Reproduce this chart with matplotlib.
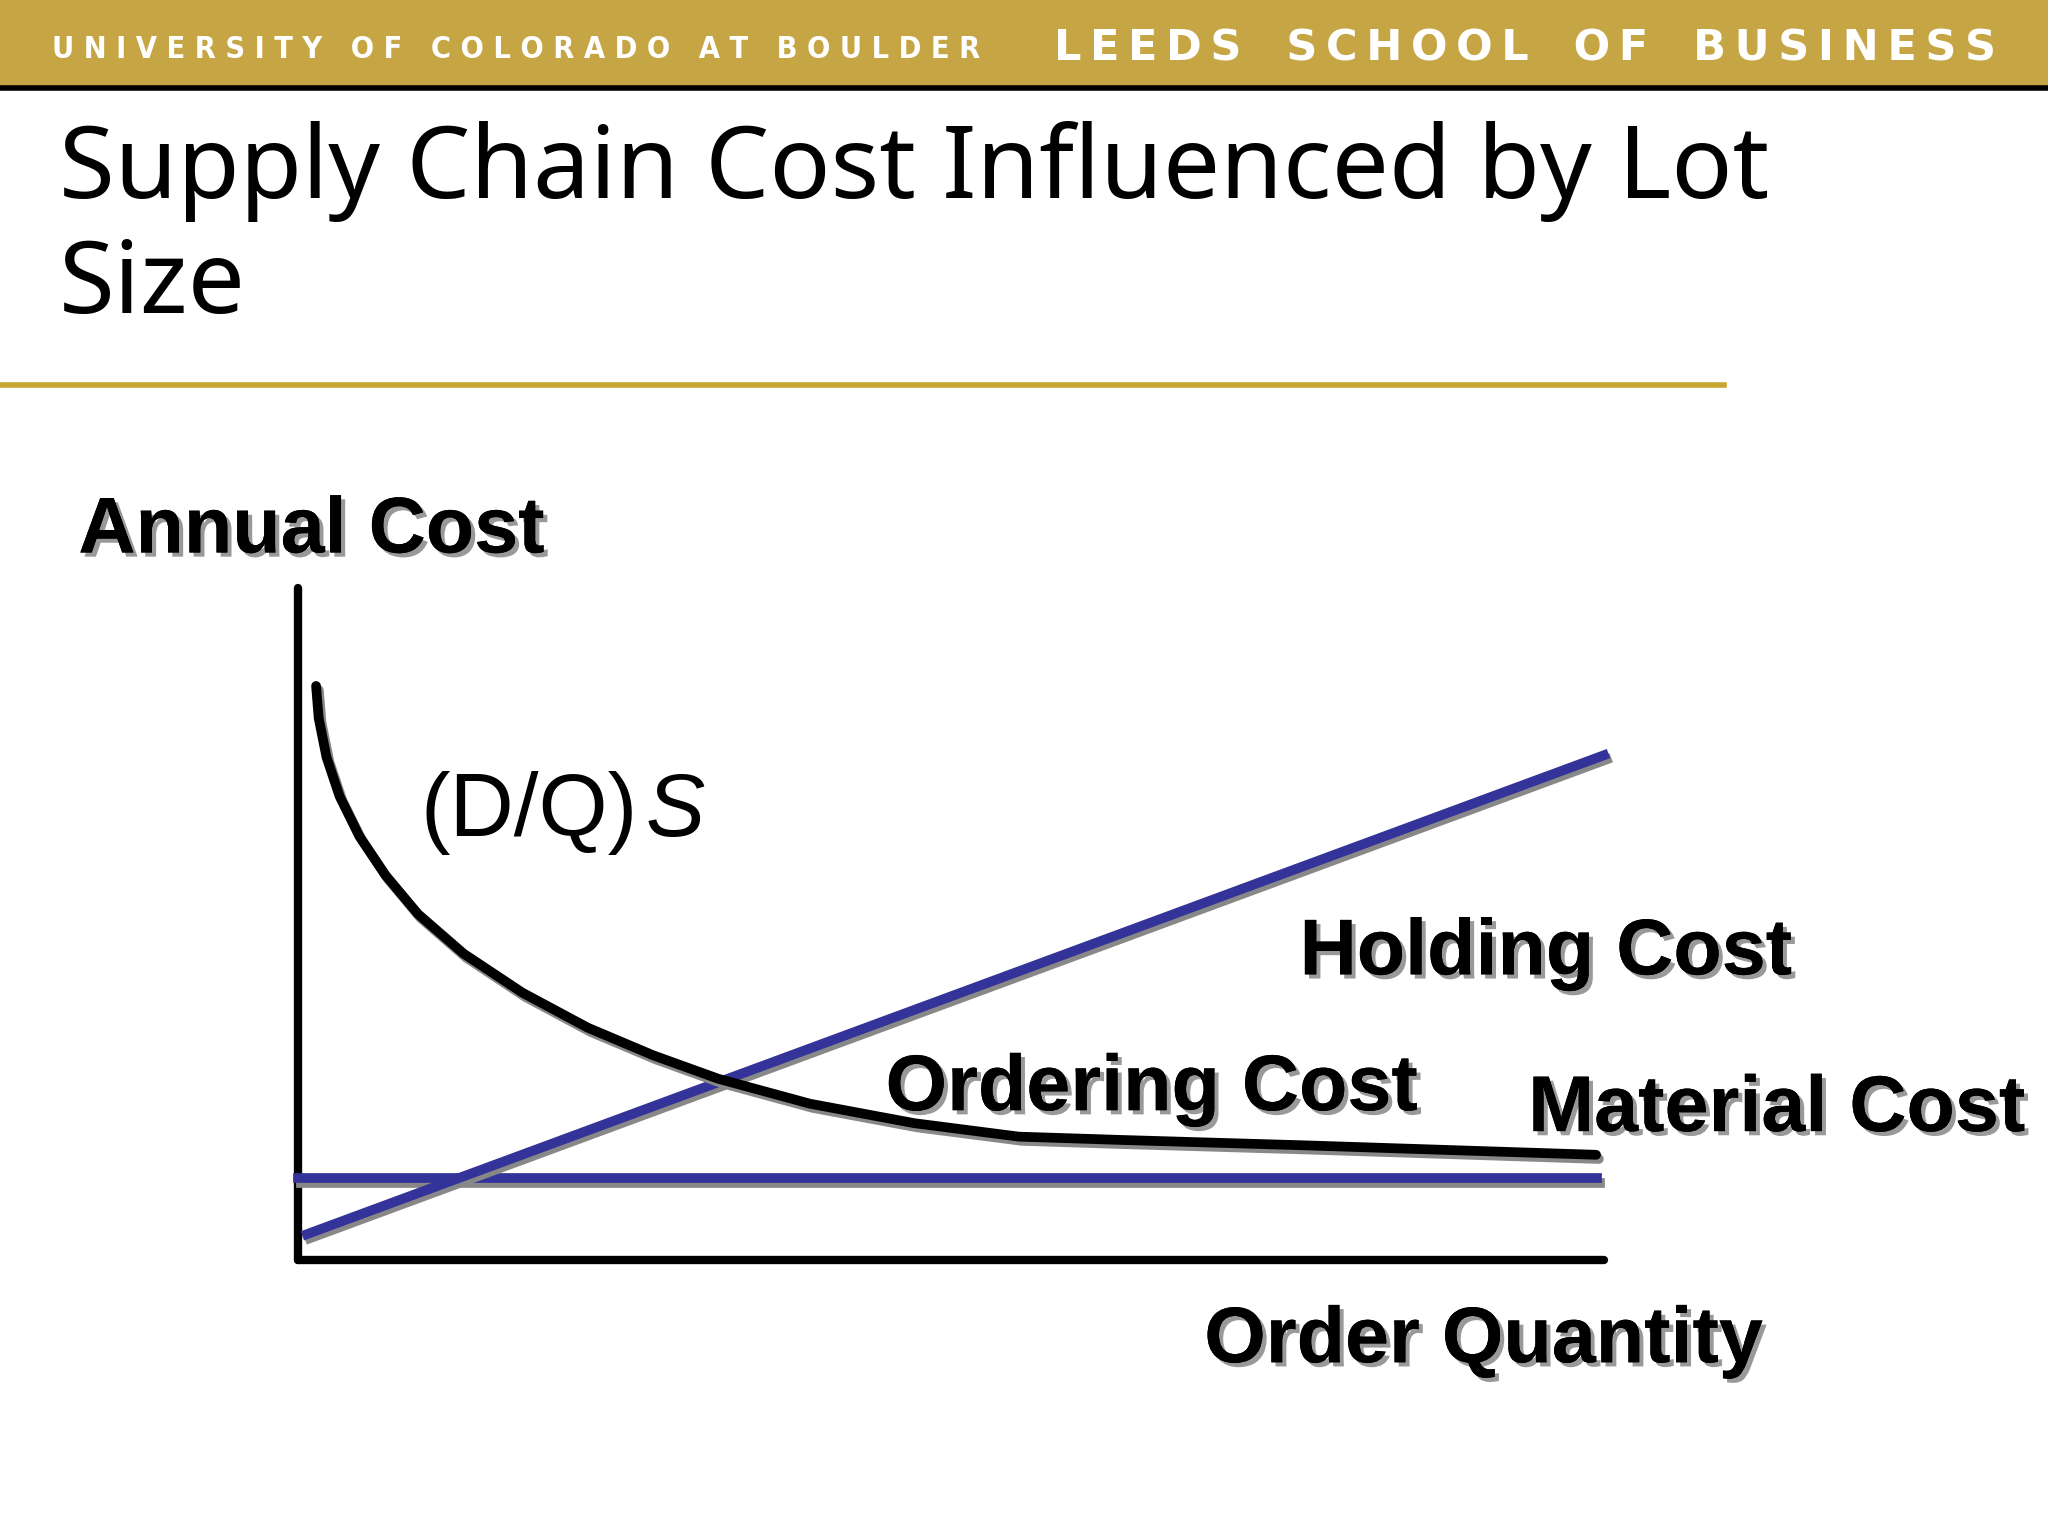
import matplotlib
matplotlib.use("Agg")
import matplotlib.pyplot as plt
import matplotlib.patheffects as pe

# data (abstract units: order quantity 0-100, annual cost 0-100)
hold_q = [0.7, 100]
hold_c = [3.9, 75.1]
mat_q = [0, 99.5]
mat_c = [12.2, 12.2]
ord_q = [1.4, 1.6, 2.2, 3.2, 4.7, 6.7, 9.2, 12.7, 17.2, 22.2, 27.2, 32.2, 39.2, 47.2, 55.2, 63.2, 77.2, 99.4]
ord_c = [85.4, 80.6, 74.8, 69.0, 63.1, 57.3, 51.5, 45.6, 39.8, 34.6, 30.5, 27.0, 23.3, 20.4, 18.4, 17.9, 17.1, 15.7]

W, H = 1568, 1176
def fx(x): return x / W
def fy(y): return 1 - y / H

fig = plt.figure(figsize=(20.48, 15.36), dpi=100)
fig.patch.set_facecolor("white")

bg = fig.add_axes([0, 0, 1, 1]); bg.set_xlim(0, W); bg.set_ylim(H, 0); bg.axis("off")
bg.add_patch(plt.Rectangle((0, 0), W, 66, color="#C5A544", zorder=0))
bg.plot([0, W], [67, 67], color="black", lw=4)
bg.plot([0, 1320], [295, 295], color="#C9A531", lw=4)

def spaced(s, sep, wsep):
    return wsep.join(sep.join(w) for w in s.split())

fig.text(fx(40), fy(38), spaced("UNIVERSITY OF COLORADO AT BOULDER", " ", "   "),
         fontsize=22, fontweight="bold", color="white", family="DejaVu Sans", fontstretch="condensed",
         va="center", ha="left")
fig.text(fx(1528), fy(37), spaced("LEEDS SCHOOL OF BUSINESS", "\u2009", "   "),
         fontsize=31, fontweight="bold", color="white", family="DejaVu Sans", va="center", ha="right")

fig.text(fx(45), fy(258), "Supply Chain Cost Influenced by Lot\nSize", fontsize=73,
         family="Noto Sans", color="black", ha="left", va="bottom", linespacing=1.18)

shadow = [pe.withSimplePatchShadow(offset=(3, -3), shadow_rgbFace="#999999", alpha=1.0), pe.Normal()]
lbl = dict(fontsize=57, fontweight="bold", family="Liberation Sans", color="black", path_effects=shadow)
fig.text(fx(60), fy(423), "Annual Cost", ha="left", va="baseline", **lbl)
fig.text(fx(995), fy(746), "Holding Cost", ha="left", va="baseline", **lbl)
fig.text(fx(678), fy(850), "Ordering Cost", ha="left", va="baseline", **lbl)
fig.text(fx(1170), fy(866), "Material Cost", ha="left", va="baseline", **lbl)
fig.text(fx(922), fy(1043), "Order Quantity", ha="left", va="baseline", **lbl)
fig.text(fx(322), fy(640), "(D/Q)", fontsize=64, family="Liberation Sans", ha="left", va="baseline")
fig.text(fx(494), fy(640), "S", fontsize=64, family="Liberation Sans", style="italic", ha="left", va="baseline")

ax = fig.add_axes([fx(228), fy(965), 1000 / W, 515 / H])
ax.set_xlim(0, 100); ax.set_ylim(0, 100)
ax.axis("off")
ax.plot([0, 0], [0, 100], color="black", lw=6, solid_capstyle="round", clip_on=False)
ax.plot([0, 100], [0, 0], color="black", lw=6, solid_capstyle="round", clip_on=False)
lshadow = [pe.SimpleLineShadow(offset=(2, -3), shadow_color="#888888", alpha=1.0), pe.Normal()]
ax.plot(mat_q, mat_c, color="#333399", lw=7, clip_on=False, path_effects=lshadow)
ax.plot(hold_q, hold_c, color="#333399", lw=7, clip_on=False, path_effects=lshadow)
ax.plot(ord_q, ord_c, color="black", lw=7, clip_on=False, path_effects=lshadow,
        solid_capstyle="round", solid_joinstyle="round")

fig.savefig("out.png", dpi=100)
